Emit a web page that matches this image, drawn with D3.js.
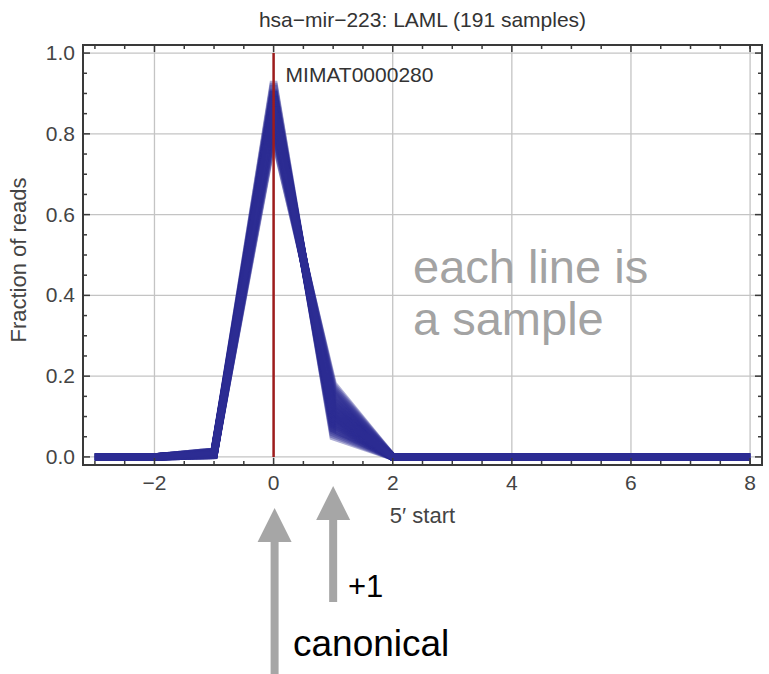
<!DOCTYPE html>
<html>
<head>
<meta charset="utf-8">
<script src="https://cdn.jsdelivr.net/npm/d3@7"></script>
<style>
  body { margin: 0; background: #fff; }
  svg text { font-family: "Liberation Sans", Arial, Helvetica, sans-serif; }
</style>
</head>
<body>
<svg id="chart" width="769" height="674"></svg>
<script>
// 5' start offsets, one point per offset for every sample line
let positions = [-3, -2, -1, 0, 1, 2, 3, 4, 5, 6, 7, 8];

// fraction of reads per sample at offsets -1, 0 (canonical) and +1; all other offsets ~0
let minusOneFrac = [0.008, 0.012, 0.004, 0.014, 0.008, 0.01, 0.006, 0.004, 0.012, 0.008,
    0.01, 0.006, 0.004, 0.014, 0.008, 0.01, 0.006, 0.004, 0.012, 0.008,
    0.01, 0.006, 0.004, 0.014, 0.008, 0.01, 0.006, 0.004, 0.012, 0.008,
    0.01, 0.006, 0.004, 0.014, 0.008, 0.01, 0.006, 0.004, 0.012, 0.008];
let canonicalFrac = [0.93, 0.92, 0.925, 0.905, 0.91, 0.905, 0.905, 0.905, 0.89, 0.895,
    0.885, 0.89, 0.89, 0.87, 0.88, 0.875, 0.875, 0.875, 0.86, 0.865,
    0.855, 0.86, 0.86, 0.84, 0.85, 0.84, 0.84, 0.845, 0.825, 0.83,
    0.82, 0.82, 0.82, 0.80, 0.805, 0.795, 0.895, 0.89, 0.865, 0.865];
let plusOneFrac = [0.05, 0.055, 0.06, 0.065, 0.07, 0.07, 0.075, 0.08, 0.08, 0.085,
    0.09, 0.09, 0.095, 0.10, 0.10, 0.10, 0.105, 0.11, 0.11, 0.115,
    0.12, 0.12, 0.125, 0.13, 0.13, 0.135, 0.14, 0.14, 0.145, 0.15,
    0.155, 0.16, 0.165, 0.17, 0.175, 0.18, 0.085, 0.095, 0.105, 0.115];

let xGridTicks = [-2, 0, 2, 4, 6, 8];
let yGridTicks = [0, 0.2, 0.4, 0.6, 0.8, 1.0];
let xMinorTicks = [-3, -2.5, -1.5, -1, -0.5, 0.5, 1, 1.5, 2.5, 3, 3.5, 4.5, 5, 5.5, 6.5, 7, 7.5, 8];
let yMinorTicks = [0.05, 0.1, 0.15, 0.25, 0.3, 0.35, 0.45, 0.5, 0.55, 0.65, 0.7, 0.75, 0.85, 0.9, 0.95];

let chartTitle = "hsa\u2212mir\u2212223: LAML (191 samples)";
let matureLabel = "MIMAT0000280";

let svg = d3.select("#chart");
let plotLeft = 83, plotRight = 762, plotTop = 45, plotBottom = 465;
let frameColor = "#3a3a3a";
let labelColor = "#444";

let xScale = d3.scaleLinear().domain([-3.2, 8.2]).range([plotLeft, plotRight]);
let yScale = d3.scaleLinear().domain([-0.02, 1.02]).range([plotBottom, plotTop]);

// gridlines
svg.selectAll(".xGrid")
    .data(xGridTicks)
    .enter()
    .append("line")
    .attr("x1", d => xScale(d))
    .attr("x2", d => xScale(d))
    .attr("y1", plotTop)
    .attr("y2", plotBottom)
    .attr("stroke", "#c4c4c4")
    .attr("stroke-width", 1.3);
svg.selectAll(".yGrid")
    .data(yGridTicks)
    .enter()
    .append("line")
    .attr("x1", plotLeft)
    .attr("x2", plotRight)
    .attr("y1", d => yScale(d))
    .attr("y2", d => yScale(d))
    .attr("stroke", "#c4c4c4")
    .attr("stroke-width", 1.3);

// one line per sample
let line = d3.line()
    .x(d => xScale(d[0]))
    .y(d => yScale(d[1]));

let samples = canonicalFrac.map(function(c, i) {
    return positions.map(function(p) {
        if (p === -1) return [p, minusOneFrac[i]];
        if (p === 0) return [p, c];
        if (p === 1) return [p, plusOneFrac[i]];
        return [p, 0];
    });
});

svg.selectAll(".sampleLine")
    .data(samples)
    .enter()
    .append("path")
    .attr("d", line)
    .attr("fill", "none")
    .attr("stroke", "#2e2e94")
    .attr("stroke-opacity", 0.38)
    .attr("stroke-width", 7.5)
    .attr("stroke-linejoin", "miter");

// canonical position marker
svg.append("line")
    .attr("x1", xScale(0))
    .attr("x2", xScale(0))
    .attr("y1", yScale(0))
    .attr("y2", yScale(1))
    .attr("stroke", "#9e1c1c")
    .attr("stroke-width", 2.5);

svg.append("text")
    .attr("x", xScale(0) + 12)
    .attr("y", 82)
    .text(matureLabel)
    .style("font-size", "21px")
    .style("fill", "#333");

// frame
svg.append("rect")
    .attr("x", plotLeft)
    .attr("y", plotTop)
    .attr("width", plotRight - plotLeft)
    .attr("height", plotBottom - plotTop)
    .attr("fill", "none")
    .attr("stroke", frameColor)
    .attr("stroke-width", 2);

// ticks on all four sides, pointing inward
function addXTicks(vals, len) {
    vals.forEach(function(v) {
        svg.append("line")
            .attr("x1", xScale(v)).attr("x2", xScale(v))
            .attr("y1", plotBottom).attr("y2", plotBottom - len)
            .attr("stroke", frameColor).attr("stroke-width", 1.5);
        svg.append("line")
            .attr("x1", xScale(v)).attr("x2", xScale(v))
            .attr("y1", plotTop).attr("y2", plotTop + len)
            .attr("stroke", frameColor).attr("stroke-width", 1.5);
    });
}
function addYTicks(vals, len) {
    vals.forEach(function(v) {
        svg.append("line")
            .attr("x1", plotLeft).attr("x2", plotLeft + len)
            .attr("y1", yScale(v)).attr("y2", yScale(v))
            .attr("stroke", frameColor).attr("stroke-width", 1.5);
        svg.append("line")
            .attr("x1", plotRight).attr("x2", plotRight - len)
            .attr("y1", yScale(v)).attr("y2", yScale(v))
            .attr("stroke", frameColor).attr("stroke-width", 1.5);
    });
}
addXTicks(xGridTicks, 7);
addXTicks(xMinorTicks, 4);
addYTicks(yGridTicks, 7);
addYTicks(yMinorTicks, 4);

// tick labels
svg.selectAll(".xLabel")
    .data(xGridTicks)
    .enter()
    .append("text")
    .attr("x", d => xScale(d))
    .attr("y", 490)
    .attr("text-anchor", "middle")
    .text(d => d < 0 ? "\u2212" + Math.abs(d) : d)
    .style("font-size", "21px")
    .style("fill", labelColor);
svg.selectAll(".yLabel")
    .data(yGridTicks)
    .enter()
    .append("text")
    .attr("x", plotLeft - 8)
    .attr("y", d => yScale(d) + 7)
    .attr("text-anchor", "end")
    .text(d => d3.format(".1f")(d))
    .style("font-size", "21px")
    .style("fill", labelColor);

// axis titles
svg.append("text")
    .attr("x", (plotLeft + plotRight) / 2)
    .attr("y", 523)
    .attr("text-anchor", "middle")
    .text("5\u2032 start")
    .style("font-size", "22px")
    .style("fill", labelColor);
svg.append("text")
    .attr("transform", "translate(26," + ((plotTop + plotBottom) / 2 + 5) + ") rotate(-90)")
    .attr("text-anchor", "middle")
    .text("Fraction of reads")
    .style("font-size", "22px")
    .style("fill", labelColor);
svg.append("text")
    .attr("x", (plotLeft + plotRight) / 2)
    .attr("y", 27)
    .attr("text-anchor", "middle")
    .text(chartTitle)
    .style("font-size", "21px")
    .style("fill", "#333");

// annotations
svg.append("text")
    .attr("x", 413).attr("y", 283)
    .text("each line is")
    .style("font-size", "47px")
    .style("fill", "#a3a3a3");
svg.append("text")
    .attr("x", 413).attr("y", 335)
    .text("a sample")
    .style("font-size", "47px")
    .style("fill", "#a3a3a3");

function drawArrow(x, tipY, baseY) {
    let headLen = 34, headHalf = 17, shaftHalf = 4;
    let pts = [
        [x, tipY],
        [x + headHalf, tipY + headLen],
        [x + shaftHalf, tipY + headLen],
        [x + shaftHalf, baseY],
        [x - shaftHalf, baseY],
        [x - shaftHalf, tipY + headLen],
        [x - headHalf, tipY + headLen]
    ];
    svg.append("path")
        .attr("d", "M" + pts.map(p => p.join(",")).join("L") + "Z")
        .attr("fill", "#a6a6a6");
}
drawArrow(xScale(0) + 1, 508, 674);
drawArrow(xScale(1), 486, 602);

svg.append("text")
    .attr("x", 348).attr("y", 597)
    .text("+1")
    .style("font-size", "31px")
    .style("fill", "#000");
svg.append("text")
    .attr("x", 293).attr("y", 656)
    .text("canonical")
    .style("font-size", "37px")
    .style("fill", "#000");
</script>
</body>
</html>
